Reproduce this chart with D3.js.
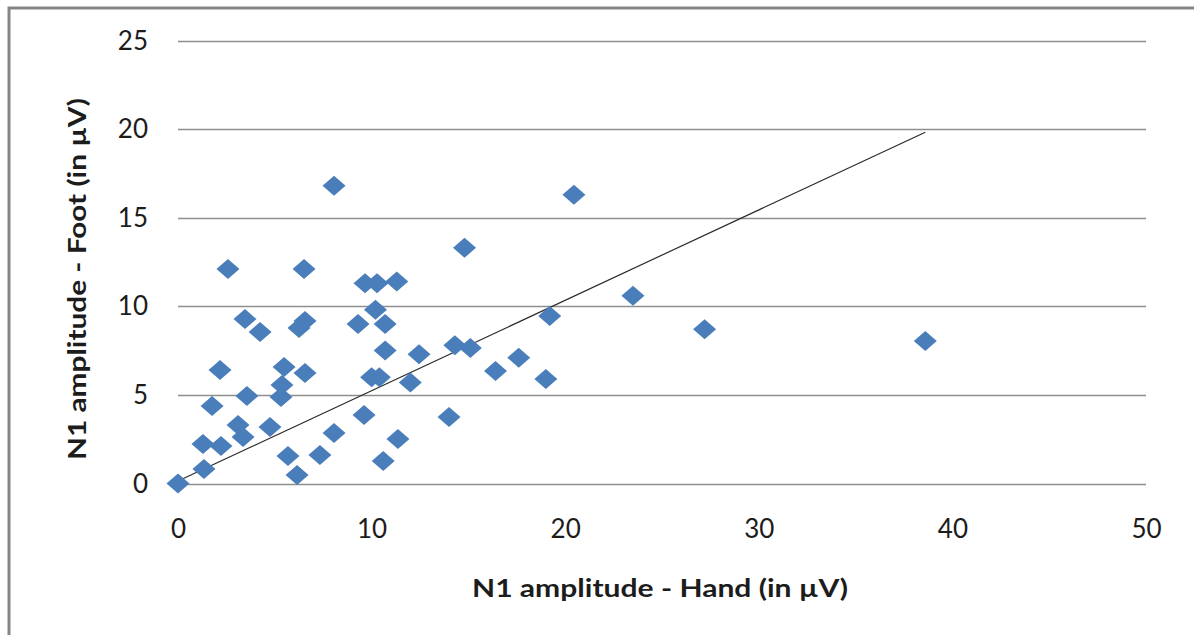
<!DOCTYPE html>
<html>
<head>
<meta charset="utf-8">
<script src="https://cdn.jsdelivr.net/npm/d3@7"></script>
<style>
  html, body { margin: 0; padding: 0; background: #fff; }
  svg { display: block; }
</style>
</head>
<body>
<svg id="chart" width="1194" height="635"></svg>
<script>
// N1 amplitude measured at the hand (x) and at the foot (y), in µV
const handAmp = [0, 1.34, 1.29, 1.76, 2.22, 2.17, 2.58, 3.10, 3.36, 3.46, 3.56, 4.24, 4.75, 5.32, 5.37, 5.48, 5.68, 6.15, 6.25, 6.56, 6.51, 6.56, 7.33, 8.06, 8.06, 9.30, 9.66, 9.61, 10.0, 10.28, 10.2, 10.4, 10.6, 10.7, 10.7, 11.3, 11.36, 12.0, 12.45, 14.0, 14.3, 14.8, 15.1, 16.4, 17.6, 19.0, 19.2, 20.45, 23.5, 27.2, 38.6];
const footAmp = [0, 0.82, 2.23, 4.37, 2.12, 6.40, 12.1, 3.30, 2.62, 9.28, 4.94, 8.55, 3.19, 4.88, 5.56, 6.57, 1.55, 0.48, 8.77, 9.17, 12.1, 6.24, 1.61, 2.85, 16.8, 9.0, 11.3, 3.87, 6.0, 11.3, 9.8, 6.0, 1.27, 9.0, 7.5, 11.4, 2.51, 5.7, 7.3, 3.75, 7.8, 13.3, 7.65, 6.35, 7.1, 5.9, 9.45, 16.3, 10.6, 8.7, 8.04];

// Linear trend line: intercept and slope
const trendIntercept = 0.14;
const trendSlope = 0.51;

const xTicks = [0, 10, 20, 30, 40, 50];
const yTicks = [0, 5, 10, 15, 20, 25];

const xTitle = "N1 amplitude - Hand (in \u00b5V)";
const yTitle = "N1 amplitude - Foot (in \u00b5V)";

const svg = d3.select("#chart");
const font = "Lato, 'Open Sans', sans-serif";
const textColor = "#1c1c1c";

// outer chart frame (left and top edges)
svg.append("path")
  .attr("d", "M9,635 V8 H1194")
  .attr("fill", "none")
  .attr("stroke", "#858585")
  .attr("stroke-width", 3);

const x = d3.scaleLinear().domain([0, 50]).range([178, 1146]);
const y = d3.scaleLinear().domain([0, 25]).range([483.5, 40.5]);

// horizontal gridlines
svg.append("g")
  .selectAll("line")
  .data(yTicks)
  .join("line")
  .attr("x1", x(0))
  .attr("x2", x(50))
  .attr("y1", d => Math.round(y(d)) + 0.5)
  .attr("y2", d => Math.round(y(d)) + 0.5)
  .attr("stroke", "#8e8e8e")
  .attr("stroke-width", 1.3);

// y tick labels
const yAxis = d3.axisLeft(y).tickValues(yTicks).tickSize(0).tickPadding(0);
const gy = svg.append("g").attr("transform", "translate(148,0)").call(yAxis);
gy.select(".domain").remove();
gy.selectAll("text")
  .attr("font-family", font)
  .attr("font-size", 26)
  .attr("fill", textColor)
  .attr("dy", "0.33em");

// x tick labels
const xAxis = d3.axisBottom(x).tickValues(xTicks).tickSize(0).tickPadding(0);
const gx = svg.append("g").attr("transform", "translate(0,529)").call(xAxis);
gx.select(".domain").remove();
gx.selectAll("text")
  .attr("font-family", font)
  .attr("font-size", 26)
  .attr("fill", textColor)
  .attr("dy", "0.33em")
  .attr("y", 0);

// trend line across the observed hand-amplitude range
const xMin = d3.min(handAmp), xMax = d3.max(handAmp);
svg.append("line")
  .attr("x1", x(xMin))
  .attr("y1", y(trendIntercept + trendSlope * xMin))
  .attr("x2", x(xMax))
  .attr("y2", y(trendIntercept + trendSlope * xMax))
  .attr("stroke", "#2b2b2b")
  .attr("stroke-width", 1.2);

// diamond markers
const pts = handAmp.map((v, i) => ({ h: v, f: footAmp[i] }));
const hw = 11.5, hh = 10;
svg.append("g")
  .selectAll("path")
  .data(pts)
  .join("path")
  .attr("d", d => {
    const cx = x(d.h), cy = y(d.f);
    return `M${cx},${cy - hh} L${cx + hw},${cy} L${cx},${cy + hh} L${cx - hw},${cy} Z`;
  })
  .attr("fill", "#4a7ebb");

// axis titles
svg.append("text")
  .attr("x", 660)
  .attr("y", 597)
  .attr("text-anchor", "middle")
  .attr("font-family", font)
  .attr("font-weight", "bold")
  .attr("font-size", 24)
  .attr("textLength", 376)
  .attr("lengthAdjust", "spacingAndGlyphs")
  .attr("fill", textColor)
  .text(xTitle);

svg.append("text")
  .attr("transform", "translate(86,279) rotate(-90)")
  .attr("text-anchor", "middle")
  .attr("font-family", font)
  .attr("font-weight", "bold")
  .attr("font-size", 24)
  .attr("textLength", 362)
  .attr("lengthAdjust", "spacingAndGlyphs")
  .attr("fill", textColor)
  .text(yTitle);
</script>
</body>
</html>
